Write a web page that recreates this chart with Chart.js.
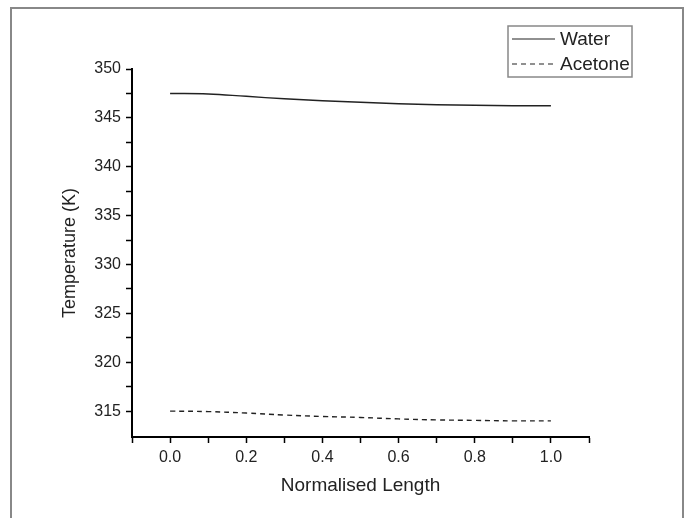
<!DOCTYPE html>
<html>
<head>
<meta charset="utf-8">
<script src="https://cdn.jsdelivr.net/npm/chart.js@4/dist/chart.umd.min.js"></script>
<style>
  html, body { margin: 0; padding: 0; background: #fff; }
  canvas { display: block; }
</style>
</head>
<body>
<canvas id="c" width="689" height="518"></canvas>
<script>
const positions = [0.0, 0.1, 0.2, 0.3, 0.4, 0.5, 0.6, 0.7, 0.8, 0.9, 1.0];
const waterTemps = [347.5, 347.45, 347.2, 346.95, 346.75, 346.6, 346.45, 346.35, 346.3, 346.25, 346.25];
const acetoneTemps = [315.0, 314.95, 314.8, 314.6, 314.45, 314.35, 314.2, 314.1, 314.05, 314.0, 314.0];
const seriesNames = ["Water", "Acetone"];
const yTickValues = [315, 317.5, 320, 322.5, 325, 327.5, 330, 332.5, 335, 337.5, 340, 342.5, 345, 347.5, 350];
const xTickValues = [-0.1, 0.0, 0.1, 0.2, 0.3, 0.4, 0.5, 0.6, 0.7, 0.8, 0.9, 1.0, 1.1];
const xTitle = "Normalised Length";
const yTitle = "Temperature (K)";

const FONT = "'Liberation Sans', Arial, sans-serif";
const lineColor = "#222";

const framePlugin = {
  id: 'frame',
  beforeDraw(chart) {
    const ctx = chart.ctx;
    ctx.save();
    ctx.strokeStyle = '#888';
    ctx.lineWidth = 2;
    ctx.beginPath();
    ctx.moveTo(11, 520);
    ctx.lineTo(11, 8);
    ctx.lineTo(683, 8);
    ctx.lineTo(683, 520);
    ctx.stroke();
    ctx.restore();
  }
};

const legendBoxPlugin = {
  id: 'legendBox',
  afterDraw(chart) {
    const ctx = chart.ctx;
    const x0 = 508, y0 = 26, w = 124, h = 51;
    ctx.save();
    ctx.strokeStyle = '#888';
    ctx.lineWidth = 1.5;
    ctx.strokeRect(x0, y0, w, h);
    chart.data.datasets.forEach((ds, i) => {
      const y = y0 + 13 + i * 25;
      ctx.strokeStyle = ds.borderColor;
      ctx.lineWidth = 1.2;
      ctx.setLineDash(ds.borderDash || []);
      ctx.beginPath();
      ctx.moveTo(x0 + 4, y);
      ctx.lineTo(x0 + 47, y);
      ctx.stroke();
      ctx.setLineDash([]);
      ctx.fillStyle = '#222';
      ctx.font = '19px ' + FONT;
      ctx.textBaseline = 'middle';
      ctx.textAlign = 'left';
      ctx.fillText(ds.label, x0 + 52, y + 1);
    });
    ctx.restore();
  }
};

new Chart(document.getElementById('c'), {
  type: 'line',
  data: {
    labels: positions,
    datasets: [
      {
        label: seriesNames[0],
        data: positions.map((x, i) => ({ x: x, y: waterTemps[i] })),
        borderColor: lineColor,
        borderWidth: 1.5,
        pointRadius: 0,
        tension: 0.4,
        fill: false
      },
      {
        label: seriesNames[1],
        data: positions.map((x, i) => ({ x: x, y: acetoneTemps[i] })),
        borderColor: lineColor,
        borderWidth: 1.4,
        borderDash: [5, 4],
        pointRadius: 0,
        tension: 0.4,
        fill: false
      }
    ]
  },
  options: {
    responsive: false,
    animation: false,
    devicePixelRatio: 1,
    layout: { padding: { top: 69, right: 100, left: 0, bottom: 0 } },
    plugins: {
      legend: { display: false },
      tooltip: { enabled: false }
    },
    scales: {
      x: {
        type: 'linear',
        min: -0.1,
        max: 1.1,
        afterFit(scale) { scale.height = 81; },
        afterBuildTicks(scale) { scale.ticks = xTickValues.map(v => ({ value: v })); },
        border: { display: true, color: '#000', width: 2 },
        grid: { display: true, drawOnChartArea: false, drawTicks: true, tickLength: 6, tickWidth: 1.5, tickColor: '#000' },
        ticks: {
          autoSkip: false,
          maxRotation: 0,
          padding: 5,
          color: '#222',
          font: { family: FONT, size: 16 },
          callback(v) {
            const r = Math.round(v * 10);
            return (r >= 0 && r <= 10 && r % 2 === 0) ? (r / 10).toFixed(1) : '';
          }
        },
        title: {
          display: true,
          text: xTitle,
          color: '#222',
          font: { family: FONT, size: 19 },
          padding: { top: 0, bottom: 21 }
        }
      },
      y: {
        type: 'linear',
        min: 312.35,
        max: 350,
        afterFit(scale) { scale.width = 132; },
        afterBuildTicks(scale) { scale.ticks = yTickValues.map(v => ({ value: v })); },
        border: { display: true, color: '#000', width: 2 },
        grid: { display: true, drawOnChartArea: false, drawTicks: true, tickLength: 6, tickWidth: 1.5, tickColor: '#000' },
        ticks: {
          autoSkip: false,
          padding: 5,
          color: '#222',
          font: { family: FONT, size: 16 },
          callback(v) { return (Math.abs(v % 5) < 1e-6) ? String(v) : ''; }
        },
        title: {
          display: true,
          text: yTitle,
          color: '#222',
          font: { family: FONT, size: 18 },
          padding: { top: 59, bottom: 0 }
        }
      }
    }
  },
  plugins: [framePlugin, legendBoxPlugin]
});
</script>
</body>
</html>
